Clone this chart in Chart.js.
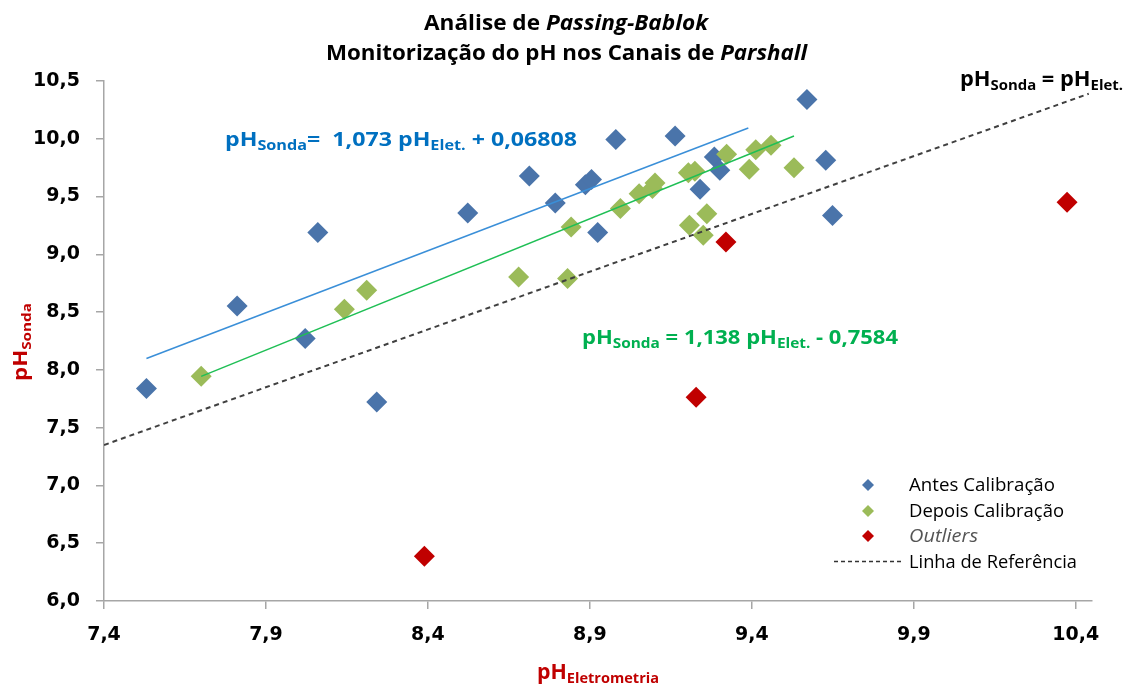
<!DOCTYPE html>
<html>
<head>
<meta charset="utf-8">
<script src="https://cdn.jsdelivr.net/npm/chart.js@4.4.0/dist/chart.umd.min.js"></script>
<style>
  html, body { margin: 0; padding: 0; background: #fff; }
</style>
</head>
<body>
<canvas id="chart" width="1127" height="684"></canvas>
<script>
// values (pH eletrometria on x, pH sonda on y)
var antesX = [7.481, 7.761, 7.971, 8.010, 8.192, 8.473, 8.663, 8.743, 8.836, 8.855,
              8.874, 8.930, 9.113, 9.190, 9.234, 9.251, 9.520, 9.578, 9.599];
var antesY = [7.838, 8.553, 8.271, 9.188, 7.722, 9.358, 9.678, 9.444, 9.603, 9.647,
              9.188, 9.993, 10.024, 9.563, 9.842, 9.727, 10.339, 9.814, 9.335];

var depoisX = [7.650, 8.092, 8.161, 8.630, 8.781, 8.792, 8.944, 9.002, 9.043, 9.051,
               9.154, 9.174, 9.157, 9.200, 9.211, 9.272, 9.342, 9.362, 9.409, 9.480];
var depoisY = [7.944, 8.524, 8.689, 8.804, 8.790, 9.236, 9.396, 9.525, 9.569, 9.617,
               9.707, 9.718, 9.251, 9.165, 9.352, 9.866, 9.736, 9.906, 9.943, 9.750];

var outliersX = [8.339, 9.178, 9.270, 10.323];
var outliersY = [6.387, 7.763, 9.107, 9.450];

// regression lines, end points as drawn
var fitAntesX = [7.481, 9.339];
var fitAntesY = [8.098, 10.093];
var fitDepoisX = [7.650, 9.480];
var fitDepoisY = [7.944, 10.024];
var refX = [7.35, 10.39];
var refY = [7.35, 10.39];

var xTickValues = [7.35, 7.85, 8.35, 8.85, 9.35, 9.85, 10.35];
var xTickLabels = ['7,4', '7,9', '8,4', '8,9', '9,4', '9,9', '10,4'];
var yTickLabels = ['6,0', '6,5', '7,0', '7,5', '8,0', '8,5', '9,0', '9,5', '10,0', '10,5'];

var legendLabels = ['Antes Calibração', 'Depois Calibração', 'Outliers', 'Linha de Referência'];

var BLUE = '#4A74AA', GREEN = '#9BBB59', RED = '#C00000';

function pts(xs, ys) {
  return xs.map(function(x, i) { return {x: x, y: ys[i]}; });
}

// draws text made of pieces (font size / offset per piece), squeezed to width w
function rich(ctx, parts, x, y, w, color, rot) {
  ctx.save();
  ctx.fillStyle = color;
  ctx.textAlign = 'left';
  ctx.textBaseline = 'alphabetic';
  var total = 0;
  parts.forEach(function(p) {
    ctx.font = p[1] + ' ' + p[2] + 'px "Open Sans"';
    total += ctx.measureText(p[0]).width;
  });
  ctx.translate(x, y);
  if (rot) ctx.rotate(rot);
  ctx.scale(w / total, 1);
  var cx = 0;
  parts.forEach(function(p) {
    ctx.font = p[1] + ' ' + p[2] + 'px "Open Sans"';
    ctx.fillText(p[0], cx, p[3] || 0);
    cx += ctx.measureText(p[0]).width;
  });
  ctx.restore();
}

function diamond(ctx, x, y, r, color) {
  ctx.save();
  ctx.fillStyle = color;
  ctx.beginPath();
  ctx.moveTo(x - r, y);
  ctx.lineTo(x, y - r);
  ctx.lineTo(x + r, y);
  ctx.lineTo(x, y + r);
  ctx.closePath();
  ctx.fill();
  ctx.restore();
}

var textPlugin = {
  id: 'texts',
  beforeDraw: function(c) {
    var ctx = c.ctx;
    ctx.save();
    ctx.fillStyle = '#fff';
    ctx.fillRect(0, 0, c.width, c.height);
    ctx.restore();
  },
  afterDraw: function(c) {
    var ctx = c.ctx;
    // title
    rich(ctx, [['Análise de ', 'bold', 21], ['Passing-Bablok', 'italic bold', 21]], 424, 30, 284, '#000');
    rich(ctx, [['Monitorização do pH nos Canais de ', 'bold', 21], ['Parshall', 'italic bold', 21]], 326, 60, 481, '#000');

    // equations
    rich(ctx, [['pH', 'bold', 20], ['Sonda', 'bold', 14, 4], ['=  1,073 pH', 'bold', 20],
               ['Elet.', 'bold', 14, 4], [' + 0,06808', 'bold', 20]], 225, 146, 352, '#0070C0');
    rich(ctx, [['pH', 'bold', 20], ['Sonda', 'bold', 14, 4], [' = 1,138 pH', 'bold', 20],
               ['Elet.', 'bold', 14, 4], [' - 0,7584', 'bold', 20]], 582, 344, 316, '#00B050');
    rich(ctx, [['pH', 'bold', 22], ['Sonda', 'bold', 15, 4], [' = pH', 'bold', 22],
               ['Elet.', 'bold', 15, 4]], 960, 86, 163, '#000');

    // axis titles
    rich(ctx, [['pH', 'bold', 22], ['Eletrometria', 'bold', 15, 4]], 537, 679, 122, RED);
    rich(ctx, [['pH', 'bold', 19], ['Sonda', 'bold', 13, 4]], 27, 381, 78, RED, -Math.PI / 2);

    // legend
    var rows = [491, 517, 542, 568];
    var widths = [146, 155, 69, 168];
    var colors = [BLUE, GREEN, RED];
    for (var i = 0; i < 3; i++) diamond(ctx, 868, rows[i] - 6, 6, colors[i]);
    ctx.save();
    ctx.strokeStyle = '#333';
    ctx.lineWidth = 1.5;
    ctx.setLineDash([4, 3]);
    ctx.beginPath();
    ctx.moveTo(834, 561.5);
    ctx.lineTo(902, 561.5);
    ctx.stroke();
    ctx.restore();
    rich(ctx, [[legendLabels[0], 'normal', 18]], 909, rows[0], widths[0], '#000');
    rich(ctx, [[legendLabels[1], 'normal', 18]], 909, rows[1], widths[1], '#000');
    rich(ctx, [[legendLabels[2], 'italic', 18]], 909, rows[2], widths[2], '#555');
    rich(ctx, [[legendLabels[3], 'normal', 18]], 909, rows[3], widths[3], '#000');
  }
};

var axisGrid = { drawOnChartArea: false, drawTicks: true, tickLength: 8, color: '#A6A6A6', lineWidth: 1.5 };
var tickFont = { family: 'DejaVu Sans', weight: 'bold', size: 19 };

new Chart(document.getElementById('chart'), {
  type: 'scatter',
  data: {
    datasets: [
      { label: 'Regressão Depois', data: pts(fitDepoisX, fitDepoisY), showLine: true,
        borderColor: '#1FBF55', borderWidth: 1.5, pointRadius: 0, order: 1 },
      { label: 'Regressão Antes', data: pts(fitAntesX, fitAntesY), showLine: true,
        borderColor: '#3A8FD8', borderWidth: 1.5, pointRadius: 0, order: 2 },
      { label: legendLabels[3], data: pts(refX, refY), showLine: true,
        borderColor: '#404040', borderWidth: 2, borderDash: [5, 4], pointRadius: 0, order: 3 },
      { label: legendLabels[2], data: pts(outliersX, outliersY), pointStyle: 'rectRot',
        pointRadius: 10.5, backgroundColor: RED, pointBackgroundColor: RED, pointBorderWidth: 0, borderWidth: 0, order: 4 },
      { label: legendLabels[1], data: pts(depoisX, depoisY), pointStyle: 'rectRot',
        pointRadius: 10.5, backgroundColor: GREEN, pointBackgroundColor: GREEN, pointBorderWidth: 0, borderWidth: 0, order: 5 },
      { label: legendLabels[0], data: pts(antesX, antesY), pointStyle: 'rectRot',
        pointRadius: 10.5, backgroundColor: BLUE, pointBackgroundColor: BLUE, pointBorderWidth: 0, borderWidth: 0, order: 6 }
    ]
  },
  options: {
    responsive: false,
    animation: false,
    devicePixelRatio: 1,
    layout: { padding: { left: 0, top: 81, right: 35, bottom: 0 } },
    plugins: { legend: { display: false }, title: { display: false }, tooltip: { enabled: false } },
    scales: {
      x: {
        type: 'linear',
        min: 7.35,
        max: 10.4,
        afterBuildTicks: function(scale) {
          scale.ticks = xTickValues.map(function(v) { return {value: v}; });
        },
        afterFit: function(scale) { scale.height = 83; },
        grid: axisGrid,
        border: { color: '#A6A6A6', width: 1.5 },
        ticks: {
          font: tickFont, color: '#000', padding: 15, maxRotation: 0, autoSkip: false,
          callback: function(v, i) { return xTickLabels[i]; }
        }
      },
      y: {
        type: 'linear',
        min: 6,
        max: 10.5,
        afterFit: function(scale) { scale.width = 104; },
        grid: axisGrid,
        border: { color: '#A6A6A6', width: 1.5 },
        ticks: {
          font: tickFont, color: '#000', padding: 16, stepSize: 0.5,
          callback: function(v, i) { return yTickLabels[i]; }
        }
      }
    }
  },
  plugins: [textPlugin]
});
</script>
</body>
</html>
